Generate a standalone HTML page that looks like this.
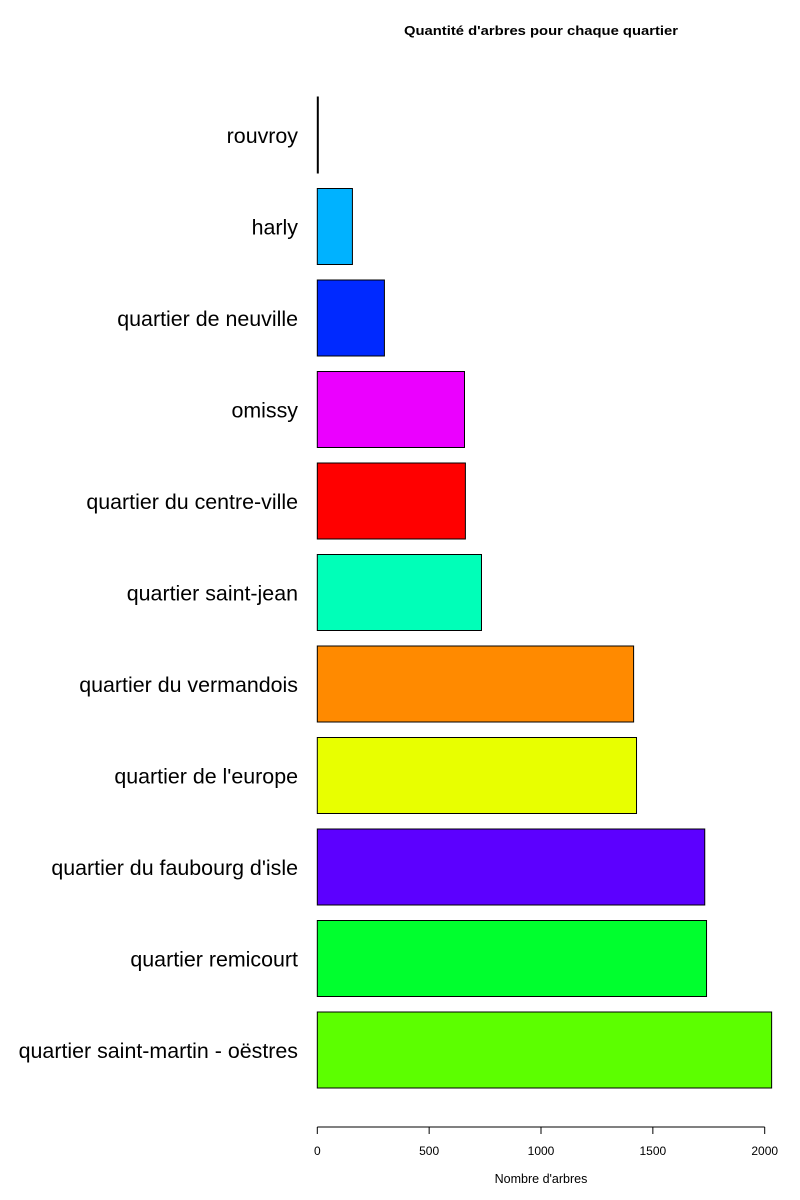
<!DOCTYPE html>
<html><head><meta charset="utf-8"><style>
html,body{margin:0;padding:0;background:#fff;}
svg{display:block;font-family:"Liberation Sans",Arial,sans-serif;}
</style></head><body>
<svg id="chart" width="800" height="1200">
<text x="541" y="35" text-anchor="middle" font-size="13" font-weight="bold" textLength="274" lengthAdjust="spacingAndGlyphs">Quantité d'arbres pour chaque quartier</text>
<text x="541" y="1183" text-anchor="middle" font-size="12.5">Nombre d'arbres</text>
</svg>
<script>
const categories = ["rouvroy","harly","quartier de neuville","omissy","quartier du centre-ville","quartier saint-jean","quartier du vermandois","quartier de l'europe","quartier du faubourg d'isle","quartier remicourt","quartier saint-martin - oëstres"];
const values = [3,157,300,658,662,734,1414,1427,1732,1740,2031];
const colors = ["#000000","#00B2FF","#0029FF","#EB00FF","#FF0000","#00FFB8","#FF8A00","#E8FF00","#5C00FF","#00FF2E","#5CFF00"];
const ticks = [0,500,1000,1500,2000];
const NS="http://www.w3.org/2000/svg";
const svg=document.getElementById('chart');
const x0=317.3, x1=764.7, vmax=2000;
const xs=v=>x0+(v/vmax)*(x1-x0);
const top0=97, step=91.5, bh=76;
function mk(t,a){const e=document.createElementNS(NS,t);for(const k in a)e.setAttribute(k,a[k]);svg.appendChild(e);return e;}
categories.forEach((c,i)=>{
  const y=top0+i*step;
  const r=mk('rect',{x:x0,y:y,width:Math.max(xs(values[i])-x0,1),height:bh,fill:colors[i],stroke:'#000','stroke-width':1});
  
  
  const t=mk('text',{x:298,y:y+bh/2+8,'text-anchor':'end','font-size':21.4});
  t.textContent=c;
  
  
});
const ax=mk('line',{x1:xs(0),x2:xs(2000),y1:1127,y2:1127,stroke:'#000','stroke-width':1});


ticks.forEach(v=>{
  const l=mk('line',{x1:xs(v),x2:xs(v),y1:1127,y2:1134,stroke:'#000','stroke-width':1});
  
  
  const t=mk('text',{x:xs(v),y:1155,'text-anchor':'middle','font-size':12});
  t.textContent=v;
  
  
});
</script>
</body></html>
